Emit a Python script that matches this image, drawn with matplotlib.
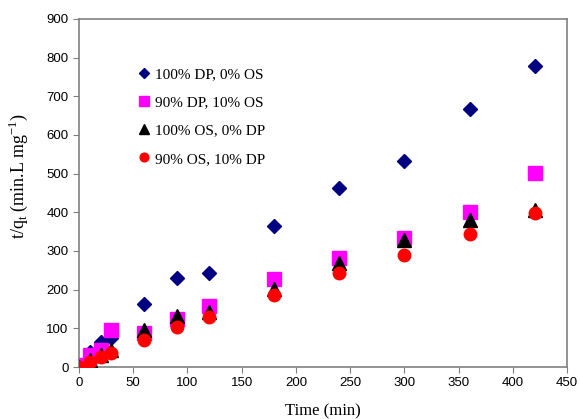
import matplotlib
matplotlib.use("Agg")
import matplotlib.pyplot as plt

time = [0, 10, 20, 30, 60, 90, 120, 180, 240, 300, 360, 420]
dp100 = [0, 40, 65, 75, 164, 229, 244, 365, 464, 533, 666, 777]
dp90 = [5, 30, 45, 97, 88, 123, 158, 227, 281, 333, 401, 501]
os100 = [0, 18, 32, 45, 95, 132, 143, 201, 268, 328, 380, 406]
os90 = [0, 14, 27, 37, 70, 103, 130, 186, 242, 290, 344, 397]

labels = ["100% DP, 0% OS", "90% DP, 10% OS", "100% OS, 0% DP", "90% OS, 10% DP"]

fig = plt.figure(figsize=(5.8, 4.19), dpi=100)
ax = fig.add_axes([0.136, 0.124, 0.842, 0.831])

ax.plot(time, dp100, linestyle="none", marker="D", ms=7.5, color="#000080", label=labels[0], zorder=3)
ax.plot(time, dp90, linestyle="none", marker="s", ms=10, color="#FF00FF", label=labels[1], zorder=4)
ax.plot(time, os100, linestyle="none", marker="^", ms=9.5, color="black", label=labels[2], zorder=5)
ax.plot(time, os90, linestyle="none", marker="o", ms=9, color="#FF0000", label=labels[3], zorder=6)

ax.set_xlim(0, 450)
ax.set_ylim(0, 900)
ax.set_xticks(range(0, 451, 50))
ax.set_yticks(range(0, 901, 100))

for s in ax.spines.values():
    s.set_color("#808080")
    s.set_linewidth(1.2)
ax.tick_params(direction="out", length=4, color="#808080", labelsize=9.5, labelcolor="black")
for lab in ax.get_xticklabels() + ax.get_yticklabels():
    lab.set_family("Liberation Sans")

ax.set_xlabel("Time (min)", family="Liberation Serif", fontsize=12)
ax.set_ylabel(r"t/q$_\mathregular{t}$ (min.L mg$^\mathregular{-1}$)", family="Liberation Serif", fontsize=13)
ax.xaxis.set_label_coords(0.5, -0.105)
ax.yaxis.set_label_coords(-0.1, 0.55)

leg = ax.legend(loc="upper left", bbox_to_anchor=(0.09, 0.9), frameon=False,
                prop={"family": "Liberation Serif", "size": 11},
                handletextpad=0.2, labelspacing=0.95, handlelength=1.0,
                markerscale=0.7)

fig.savefig("out.png", dpi=100)
